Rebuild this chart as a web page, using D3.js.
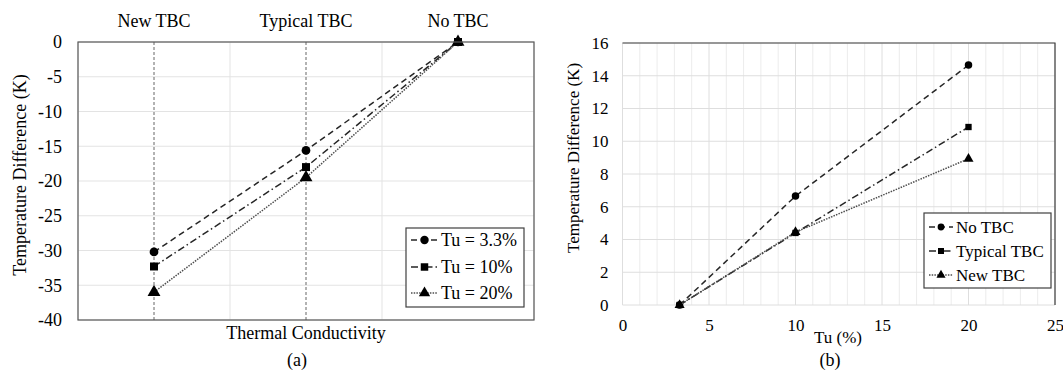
<!DOCTYPE html>
<html>
<head>
<meta charset="utf-8">
<script src="https://cdn.jsdelivr.net/npm/d3@7"></script>
<style>
  body { margin: 0; background: #fff; }
  svg text { font-family: "Liberation Serif", "Times New Roman", Times, "DejaVu Serif", serif !important; }
</style>
</head>
<body>
<svg id="chart" width="1063" height="370"></svg>
<script>
// Panel (a): temperature difference versus thermal conductivity of the coating
const categories = ["New TBC", "Typical TBC", "No TBC"];
const seriesNamesA = ["Tu = 3.3%", "Tu = 10%", "Tu = 20%"];
const tu33 = [-30.2, -15.6, 0];
const tu10 = [-32.3, -18.0, 0];
const tu20 = [-36.0, -19.5, 0];
const yTicksA = [0, -5, -10, -15, -20, -25, -30, -35, -40];

// Panel (b): temperature difference versus turbulence intensity
const tuValues = [3.3, 10, 20];
const seriesNamesB = ["No TBC", "Typical TBC", "New TBC"];
const noTBC = [0, 6.65, 14.65];
const typicalTBC = [0, 4.40, 10.87];
const newTBC = [0, 4.45, 8.93];
const xTicksB = [0, 5, 10, 15, 20, 25];
const yTicksB = [0, 2, 4, 6, 8, 10, 12, 14, 16];

const svg = d3.select("#chart");
const gridColor = "#e3e3e3";
const frameColor = "#595959";
const lineColor = "#262626";
const fmt = d => String(d); // plain hyphen for negatives

// Line styles shared by both panels: dashed, dash-dot, dotted
const styles = [
  { dash: "6,4", marker: d3.symbolCircle, color: lineColor },
  { dash: "7,3,1.5,3", marker: d3.symbolSquare, color: lineColor },
  { dash: "1.5,1.2", marker: d3.symbolTriangle, color: "#4d4d4d" }
];

function drawSeries(g, pts, st, markerSize) {
  g.append("path")
    .datum(pts)
    .attr("fill", "none")
    .attr("stroke", st.color)
    .attr("stroke-width", 1.5)
    .attr("stroke-dasharray", st.dash)
    .attr("d", d3.line().x(d => d[0]).y(d => d[1]));
  g.selectAll(null).data(pts).enter().append("path")
    .attr("transform", d => `translate(${d[0]},${d[1]})`)
    .attr("d", d3.symbol().type(st.marker).size(markerSize))
    .attr("fill", "#000");
}

function drawLegend(g, x, y, w, h, names, rowYs, sampleX0, sampleX1, textX, fontSize, markerSize) {
  g.append("rect").attr("x", x).attr("y", y).attr("width", w).attr("height", h)
    .attr("fill", "#fff").attr("stroke", "#404040").attr("stroke-width", 1.2);
  names.forEach((n, i) => {
    const st = styles[i];
    const ry = rowYs[i];
    g.append("line").attr("x1", sampleX0).attr("x2", sampleX1).attr("y1", ry).attr("y2", ry)
      .attr("stroke", st.color).attr("stroke-width", 1.5).attr("stroke-dasharray", st.dash);
    g.append("path")
      .attr("transform", `translate(${(sampleX0 + sampleX1) / 2},${ry})`)
      .attr("d", d3.symbol().type(st.marker).size(markerSize))
      .attr("fill", "#000");
    g.append("text").attr("x", textX).attr("y", ry).attr("dy", "0.35em")
      .attr("font-size", fontSize).attr("fill", "#000").text(n);
  });
}

// ---------- Panel (a) ----------
{
  const L = 78, R = 534, T = 42, B = 320;
  const x = d3.scaleBand().domain(categories).range([L, R]).paddingInner(0).paddingOuter(0);
  const y = d3.scaleLinear().domain([-40, 0]).range([B, T]);
  const g = svg.append("g");
  const cx = c => x(c) + x.bandwidth() / 2;

  // horizontal gridlines
  g.selectAll(null).data(yTicksA).enter().append("line")
    .attr("x1", L).attr("x2", R).attr("y1", d => y(d)).attr("y2", d => y(d))
    .attr("stroke", gridColor).attr("stroke-width", 1);
  // vertical gridlines at category boundaries
  const bounds = categories.map(c => x(c)).concat([R]);
  g.selectAll(null).data(bounds).enter().append("line")
    .attr("x1", d => d).attr("x2", d => d).attr("y1", T).attr("y2", B)
    .attr("stroke", gridColor).attr("stroke-width", 1);

  // dashed guide lines below the coated cases
  g.selectAll(null).data(categories.slice(0, 2)).enter().append("line")
    .attr("x1", d => cx(d)).attr("x2", d => cx(d)).attr("y1", T).attr("y2", B)
    .attr("stroke", "#666").attr("stroke-width", 1).attr("stroke-dasharray", "3,2");

  // y axis tick labels
  const yAxis = d3.axisLeft(y).tickValues(yTicksA).tickFormat(fmt).tickSize(0).tickPadding(16);
  const ya = g.append("g").attr("transform", `translate(${L},0)`).call(yAxis);
  ya.select(".domain").remove();
  ya.attr("font-size", 18);
  ya.selectAll("text").attr("fill", "#000");

  // category labels along the top
  const xAxis = d3.axisTop(x).tickSize(0).tickPadding(15);
  const xa = g.append("g").attr("transform", `translate(0,${T})`).call(xAxis);
  xa.select(".domain").remove();
  xa.attr("font-size", 18);
  xa.selectAll("text").attr("fill", "#000");

  // series
  [tu33, tu10, tu20].forEach((vals, i) => {
    const pts = categories.map((c, j) => [cx(c), y(vals[j])]);
    drawSeries(g, pts, styles[i], i === 1 ? 64 : (i === 2 ? 72 : 60));
  });

  // frame
  g.append("rect").attr("x", L).attr("y", T).attr("width", R - L).attr("height", B - T)
    .attr("fill", "none").attr("stroke", frameColor).attr("stroke-width", 1.2);

  // titles
  g.append("text").attr("x", (L + R) / 2).attr("y", 339).attr("text-anchor", "middle")
    .attr("font-size", 18).text("Thermal Conductivity");
  g.append("text").attr("x", 297).attr("y", 366).attr("text-anchor", "middle")
    .attr("font-size", 18).text("(a)");
  g.append("text").attr("transform", `translate(26,${(T + B) / 2 - 6}) rotate(-90)`)
    .attr("text-anchor", "middle").attr("font-size", 18).text("Temperature Difference (K)");

  drawLegend(g, 406, 228, 118, 79, seriesNamesA, [240, 267, 293], 411, 438, 441, 18, 56);
}

// ---------- Panel (b) ----------
{
  const L = 622.5, R = 1055, T = 43, B = 305;
  const x = d3.scaleLinear().domain([0, 25]).range([L, R]);
  const y = d3.scaleLinear().domain([0, 16]).range([B, T]);
  const g = svg.append("g");

  // minor vertical gridlines every 1 %
  g.selectAll(null).data(d3.range(0, 26)).enter().append("line")
    .attr("x1", d => x(d)).attr("x2", d => x(d)).attr("y1", T).attr("y2", B)
    .attr("stroke", d => d % 5 === 0 ? "#dedede" : "#ececec").attr("stroke-width", 1);
  // horizontal gridlines
  g.selectAll(null).data(yTicksB).enter().append("line")
    .attr("x1", L).attr("x2", R).attr("y1", d => y(d)).attr("y2", d => y(d))
    .attr("stroke", "#dedede").attr("stroke-width", 1);

  // axes labels
  const yAxis = d3.axisLeft(y).tickValues(yTicksB).tickFormat(fmt).tickSize(0).tickPadding(14);
  const ya = g.append("g").attr("transform", `translate(${L},0)`).call(yAxis);
  ya.select(".domain").remove();
  ya.attr("font-size", 17);
  ya.selectAll("text").attr("fill", "#000");

  const xAxis = d3.axisBottom(x).tickValues(xTicksB).tickFormat(fmt).tickSize(0).tickPadding(14);
  const xa = g.append("g").attr("transform", `translate(0,${B})`).call(xAxis);
  xa.select(".domain").remove();
  xa.attr("font-size", 17);
  xa.selectAll("text").attr("fill", "#000");

  // frame: dark top and right edges
  g.append("path").attr("d", `M${L},${T}H${R}V${B}`)
    .attr("fill", "none").attr("stroke", "#404040").attr("stroke-width", 1.2);

  // series
  [noTBC, typicalTBC, newTBC].forEach((vals, i) => {
    const pts = tuValues.map((t, j) => [x(t), y(vals[j])]);
    drawSeries(g, pts, styles[i], i === 1 ? 40 : 44);
  });

  // titles
  g.append("text").attr("x", 838).attr("y", 343).attr("text-anchor", "middle")
    .attr("font-size", 17).text("Tu (%)");
  g.append("text").attr("x", 830).attr("y", 366).attr("text-anchor", "middle")
    .attr("font-size", 18).text("(b)");
  g.append("text").attr("transform", `translate(579,158) rotate(-90)`)
    .attr("text-anchor", "middle").attr("font-size", 17).text("Temperature Difference (K)");

  drawLegend(g, 924, 213, 127, 75, seriesNamesB, [227, 251, 275], 929, 953, 956, 17, 36);
}
</script>
</body>
</html>
